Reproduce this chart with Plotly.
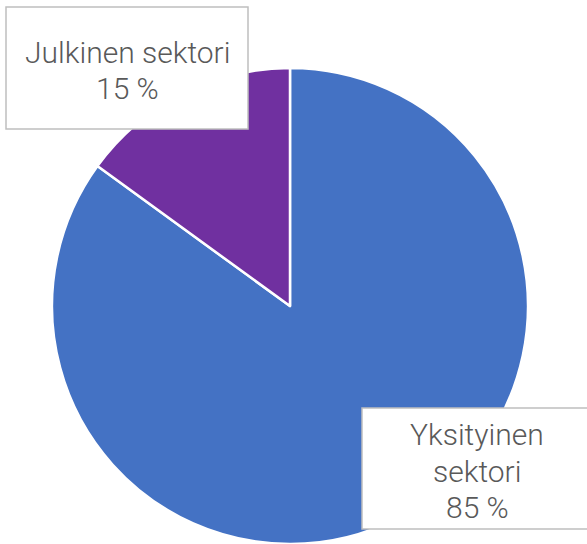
import plotly.graph_objects as go

labels = ["Yksityinen sektori", "Julkinen sektori"]
values = [85, 15]
colors = ["#4472C4", "#7030A0"]
label_lines = [["Yksityinen", "sektori", "85 %"], ["Julkinen sektori", "15 %"]]

W, H = 587, 544

fig = go.Figure(go.Pie(
    labels=labels, values=values, sort=False, direction="clockwise", rotation=0,
    marker=dict(colors=colors, line=dict(color="white", width=2.5)),
    textinfo="none", hoverinfo="label+percent", showlegend=False,
    domain=dict(x=[(290 - 238) / W, (290 + 238) / W], y=[0, 476 / H]),
))

font = dict(family="Roboto, Liberation Sans, sans-serif", size=30, color="#595959", weight=300)
# boxes: (left, top, right, bottom) in px; text line centres (cx, [cy...])
boxes = [(362, 408, 595, 529), (6, 7, 248, 129)]
text_pos = [(477, [434, 471, 507]), (127, [53, 89])]
for lines, (l, t, r, b), (cx, cys) in zip(label_lines, boxes, text_pos):
    fig.add_shape(type="rect", xref="paper", yref="paper",
                  x0=l / W, x1=r / W, y0=1 - b / H, y1=1 - t / H,
                  fillcolor="white", line=dict(color="#BFBFBF", width=1.5),
                  layer="above")
    for line, cy in zip(lines, cys):
        fig.add_annotation(
            text=line, xref="paper", yref="paper", x=cx / W, y=1 - cy / H,
            xanchor="center", yanchor="middle", showarrow=False, font=font,
        )

fig.update_layout(width=W, height=H, margin=dict(l=0, r=0, t=0, b=0),
                  paper_bgcolor="white", plot_bgcolor="white")
fig.write_html("out.html", config={"displayModeBar": False},
               post_script="document.body.style.margin='0px';")
